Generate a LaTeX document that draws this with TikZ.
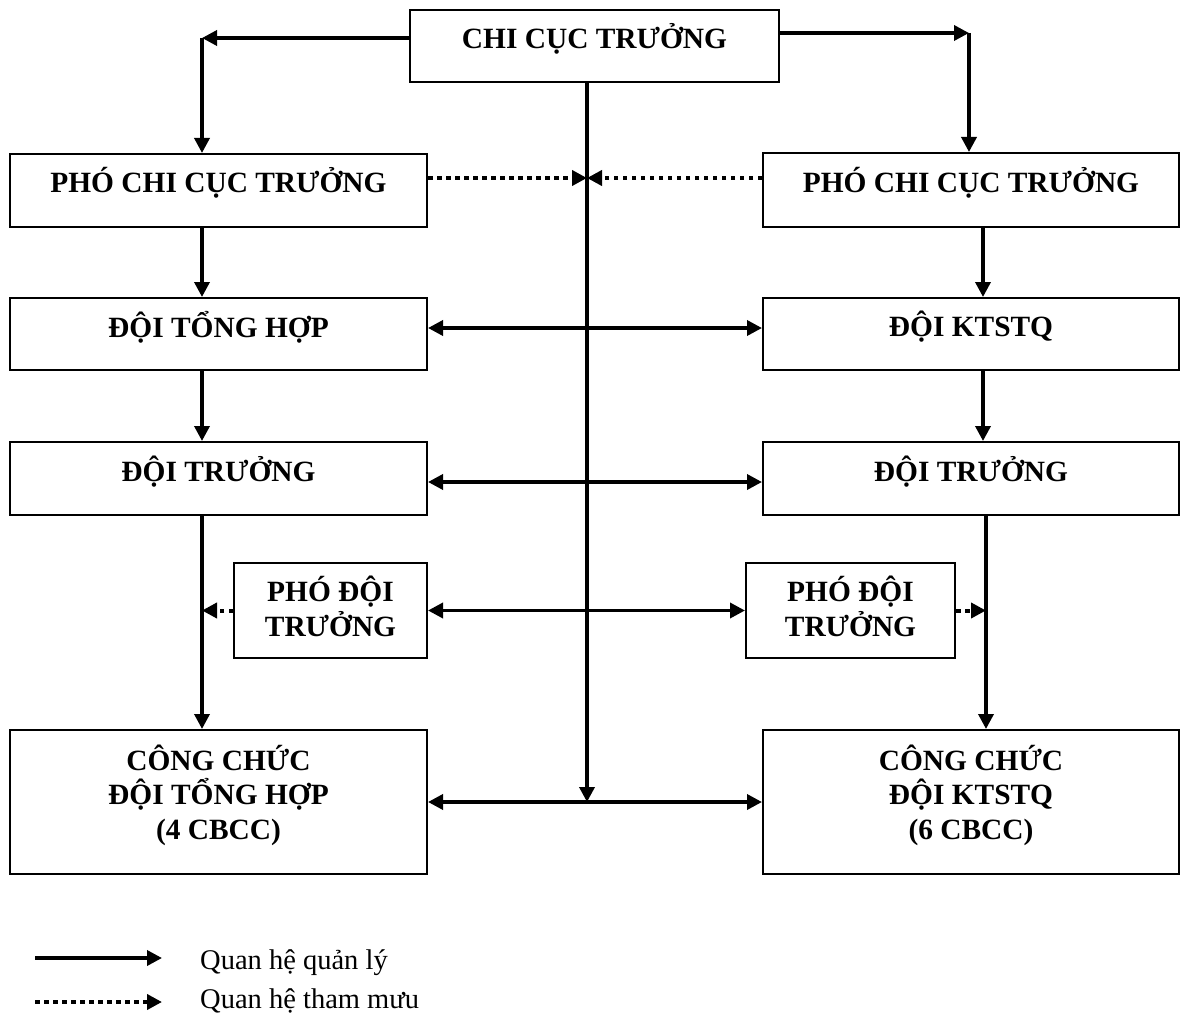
\documentclass[tikz,border=0pt]{standalone}
\usepackage{fontspec}
\setmainfont{Liberation Serif}
\usetikzlibrary{arrows.meta}
\begin{document}
\begin{tikzpicture}[x=1pt,y=-1pt,
  box/.style={draw, line width=2pt, rectangle, inner sep=0pt},
  lbl/.style={font=\fontsize{29.4}{34.5}\selectfont\bfseries, inner sep=0pt, align=center},
  leg/.style={font=\fontsize{28.5}{34.5}\selectfont, inner sep=0pt, anchor=base west},
  tip/.style={-{Triangle[length=15pt,width=15pt]}},
  mgmt/.style={line width=3.5pt, tip},
  both/.style={line width=3.5pt, {Triangle[length=15pt,width=15pt]}-{Triangle[length=15pt,width=15pt]}},
  adv/.style={line width=4pt, dash pattern=on 4.5pt off 4.5pt, tip},
]
\useasboundingbox (0,0) rectangle (1181,1030);

% boxes
\node[box, minimum width=369pt, minimum height=72pt] (top) at (594.5,46) {};
\node[box, minimum width=417pt, minimum height=73pt] (lp)  at (218.5,190.5) {};
\node[box, minimum width=416pt, minimum height=74pt] (rp)  at (971,190) {};
\node[box, minimum width=417pt, minimum height=72pt] (lth) at (218.5,334) {};
\node[box, minimum width=416pt, minimum height=72pt] (rk)  at (971,334) {};
\node[box, minimum width=417pt, minimum height=73pt] (ldt) at (218.5,478.5) {};
\node[box, minimum width=416pt, minimum height=73pt] (rdt) at (971,478.5) {};
\node[box, minimum width=193pt, minimum height=95pt] (lpd) at (330.5,610.5) {};
\node[box, minimum width=209pt, minimum height=95pt] (rpd) at (850.5,610.5) {};
\node[box, minimum width=417pt, minimum height=144pt] (lcc) at (218.5,802) {};
\node[box, minimum width=416pt, minimum height=144pt] (rcc) at (971,802) {};

% labels
\node[lbl] (topT) at ([yshift=7pt]top.center) {CHI CỤC TRƯỞNG};
\node[lbl] (lpT)  at ([yshift=7.5pt]lp.center) {PHÓ CHI CỤC TRƯỞNG};
\node[lbl] (rpT)  at ([yshift=7.5pt]rp.center) {PHÓ CHI CỤC TRƯỞNG};
\node[lbl] (lthT) at ([yshift=7pt]lth.center) {ĐỘI TỔNG HỢP};
\node[lbl] (rkT)  at ([yshift=7pt]rk.center) {ĐỘI KTSTQ};
\node[lbl] (ldtT) at ([yshift=7pt]ldt.center) {ĐỘI TRƯỞNG};
\node[lbl] (rdtT) at ([yshift=7pt]rdt.center) {ĐỘI TRƯỞNG};
\node[lbl] (lpdT) at ([yshift=4pt]lpd.center) {PHÓ ĐỘI\\TRƯỞNG};
\node[lbl] (rpdT) at ([yshift=4pt]rpd.center) {PHÓ ĐỘI\\TRƯỞNG};
\node[lbl] (lccT) at ([yshift=7pt]lcc.center) {CÔNG CHỨC\\ĐỘI TỔNG HỢP\\(4 CBCC)};
\node[lbl] (rccT) at ([yshift=7pt]rcc.center) {CÔNG CHỨC\\ĐỘI KTSTQ\\(6 CBCC)};

% helper coordinates
\coordinate (tl) at (202,38);
\coordinate (tr) at (969,33);
\coordinate (xl) at (202,0);
\coordinate (xr) at (983,0);
\coordinate (xr2) at (986,0);
\coordinate (cx) at (587,802);
\coordinate (d1) at (587,178);

% top connectors
\draw[mgmt] ([yshift=8pt]top.west) -- (tl);
\draw[mgmt] (tl) -- (lp.north -| tl);
\draw[mgmt] ([yshift=13pt]top.east) -- (tr);
\draw[mgmt] (tr) -- (rp.north -| tr);
\draw[mgmt] (top.south -| cx) -- (cx);

% advisory to centre line
\draw[adv] ([yshift=12.5pt]lp.east) -- (d1);
\draw[adv] ([yshift=12pt]rp.west) -- (d1);

% left column
\draw[mgmt] (lp.south -| xl) -- (lth.north -| xl);
\draw[mgmt] (lth.south -| xl) -- (ldt.north -| xl);
\draw[mgmt] (ldt.south -| xl) -- (lcc.north -| xl);
\draw[adv] (lpd.west) -- (lpd.west -| xl);

% right column
\draw[mgmt] (rp.south -| xr) -- (rk.north -| xr);
\draw[mgmt] (rk.south -| xr) -- (rdt.north -| xr);
\draw[mgmt] (rdt.south -| xr2) -- (rcc.north -| xr2);
\draw[adv] (rpd.east) -- (rpd.east -| xr2);

% horizontal links
\draw[both] ([yshift=6pt]lth.east) -- ([yshift=6pt]rk.west);
\draw[both] ([yshift=-3.5pt]ldt.east) -- ([yshift=-3.5pt]rdt.west);
\draw[both] (lpd.east) -- (rpd.west);
\draw[both] (lcc.east) -- (rcc.west);

% legend
\coordinate (la) at (35,958);
\coordinate (lb) at (162,958);
\coordinate (lc) at (35,1002);
\coordinate (ld) at (162,1002);
\draw[mgmt] (la) -- (lb);
\draw[adv] (lc) -- (ld);
\node[leg] (legA) at (200,969) {Quan hệ quản lý};
\node[leg] (legB) at (200,1008) {Quan hệ tham mưu};
\end{tikzpicture}
\end{document}
